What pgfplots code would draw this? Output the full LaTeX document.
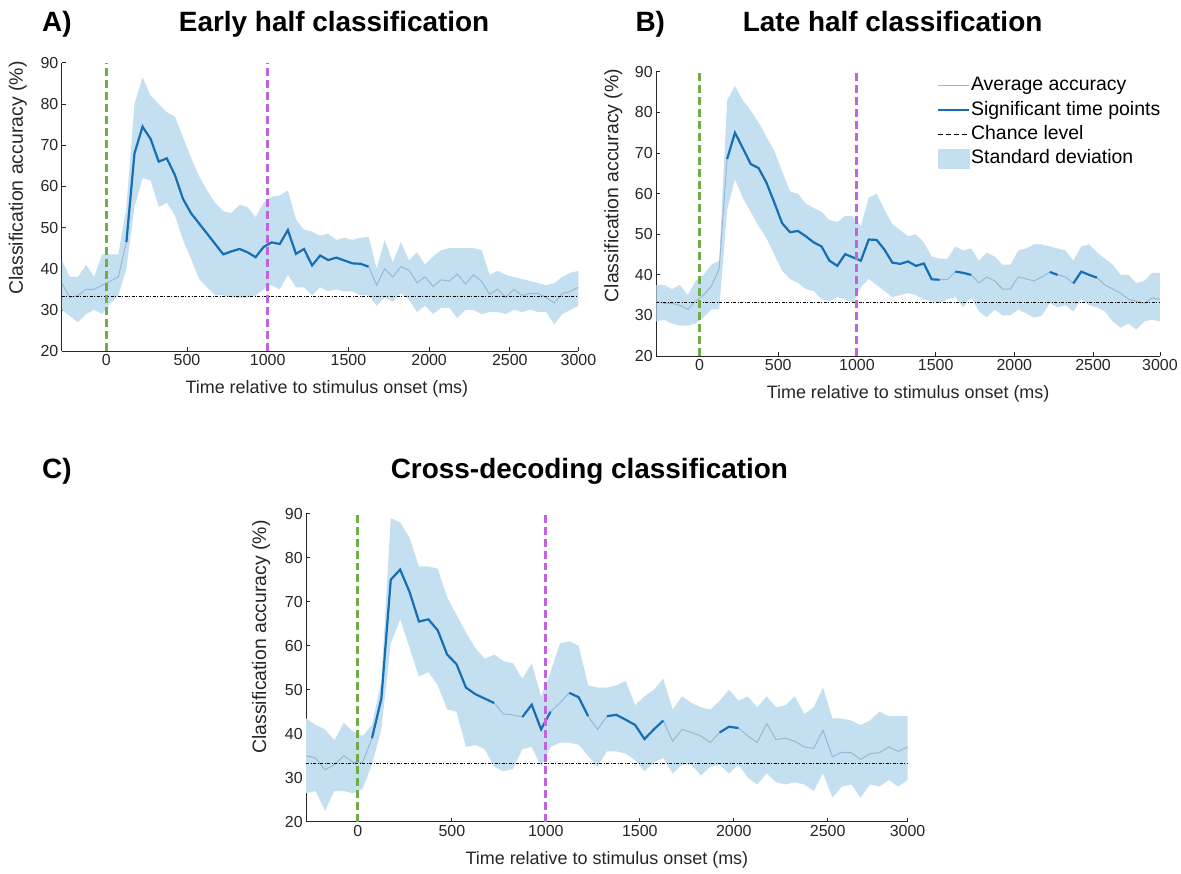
\documentclass[border=0pt]{standalone}
\usepackage{pgfplots}
\pgfplotsset{compat=1.18}
\usepackage{pgfplotstable}
\usepgfplotslibrary{fillbetween}
\usepackage{fontspec}
\setmainfont{Liberation Sans}

\definecolor{bandc}{RGB}{196,223,240}
\definecolor{meanc}{RGB}{150,185,215}
\definecolor{sigc}{RGB}{22,110,180}
\definecolor{greenc}{RGB}{112,173,71}
\definecolor{purc}{RGB}{190,100,225}
\definecolor{axc}{RGB}{38,38,38}

\pgfplotstableread{
t m u l s
-275 36.5 42 30 nan
-225 33 38 28.5 nan
-175 33.5 38 27 nan
-125 35 41 29 nan
-75 35 38 30 nan
-25 36 43.5 29 nan
25 37 43.5 31.5 nan
75 38 43.5 33.5 nan
125 46.5 55 40 46.5
175 68 80 55 68
225 74.5 86.5 62 74.5
275 71.5 82 61.5 71.5
325 66 80 55 66
375 66.8 78 56 66.8
425 62.8 77 53 62.8
475 57 72 47 57
525 53.5 67 42.5 53.5
575 51 62.5 37.5 51
625 48.5 59 35.5 48.5
675 46 56 33.5 46
725 43.5 54 33.5 43.5
775 44.2 53.5 33 44.2
825 44.8 55.5 33 44.8
875 44 55 33 44
925 42.8 52.5 33.5 42.8
975 45.3 56 35 45.3
1025 46.4 57.5 36 46.4
1075 46 57.8 35 46
1125 49.4 59 38.5 49.4
1175 43.6 52 35.5 43.6
1225 44.8 49.5 35.5 44.8
1275 40.8 49 33.5 40.8
1325 43.2 48 35.5 43.2
1375 42.1 48.5 34.5 42.1
1425 42.7 47 35 42.7
1475 42 47.5 34.5 42
1525 41.3 47 34.5 41.3
1575 41.2 47.5 33.5 41.2
1625 40.5 47.8 33.5 40.5
1675 36 40 31 nan
1725 40 47 33 nan
1775 38 41.5 32 nan
1825 40.5 46.5 34 nan
1875 39.6 42 32.5 nan
1925 36.6 44 29.5 nan
1975 38 41 31 nan
2025 35.7 43 29 nan
2075 37.3 44.5 30.5 nan
2125 37 45 30.5 nan
2175 38.7 45 28 nan
2225 36.3 45 30 nan
2275 38.5 45 30 nan
2325 37 44.5 29 nan
2375 33.8 38.5 29.5 nan
2425 35 39.5 29.5 nan
2475 33 38.5 29 nan
2525 35 38 30 nan
2575 33.5 37.5 29.5 nan
2625 34 37 30 nan
2675 34 36.5 29.5 nan
2725 33 36 29.5 nan
2775 31.7 36.5 26.5 nan
2825 34 38 29 nan
2875 34.5 39 30 nan
2925 35.5 39.5 31 nan
}\tabA

\pgfplotstableread{
t m u l s
-275 33.5 37.5 28.5 nan
-225 33 37.5 29 nan
-175 33 36.5 28 nan
-125 32.5 37.5 27.5 nan
-75 31.5 35 27.5 nan
-25 33.5 38.5 28 nan
25 35 40 29.5 nan
75 37.2 42.5 31.5 nan
125 41.6 43.5 31.5 nan
175 68.5 83 56 68.5
225 75 86.5 63.5 75
275 71.2 83 59 71.2
325 67.3 80.5 55.5 67.3
375 66.3 77.5 52 66.3
425 62.7 74 49 62.7
475 57.8 70.5 45 57.8
525 52.7 65.5 41 52.7
575 50.5 60.5 39 50.5
625 50.8 60 38 50.8
675 49.5 57.5 36.5 49.5
725 48 56.5 36 48
775 47 55.5 34 47
825 43.5 53.5 33.5 43.5
875 42.2 53 34.5 42.2
925 45.1 54.5 34 45.1
975 44.3 54.5 33 44.3
1025 43.5 52 37 43.5
1075 48.7 59 39 48.7
1125 48.6 60 37.5 48.6
1175 46.2 56 36 46.2
1225 43 52.5 34.5 43
1275 42.7 51 35 42.7
1325 43.3 49.5 35.5 43.3
1375 42.2 50 35 42.2
1425 42.8 48 34 42.8
1475 38.9 44.5 33.5 38.9
1525 38.8 44 33 38.8
1575 38.8 44 34 nan
1625 40.8 47 34.5 40.8
1675 40.5 46 32 40.5
1725 40 46.5 34.5 40
1775 38 43.5 31 nan
1825 39.5 45.5 29.5 nan
1875 38.5 44.5 31.5 nan
1925 36.5 42.5 30 nan
1975 36.5 42.5 30 nan
2025 39.5 46 31.5 nan
2075 39 46.5 30.5 nan
2125 38.5 47.5 29.5 nan
2175 39.5 47.5 30 nan
2225 40.7 47 33 40.7
2275 40 46.5 32 40
2325 39.5 46 32.5 nan
2375 37.9 43.5 31 37.9
2425 40.8 47 34 40.8
2475 40 47.5 32.5 40
2525 39.3 45.5 32 39.3
2575 37.5 44 31 nan
2625 36.5 42.5 28.5 nan
2675 35.5 40 27 nan
2725 34 40 28 nan
2775 33.5 38 26.5 nan
2825 33 38.5 28.5 nan
2875 34.3 40.5 29 nan
2925 34 40.5 28.5 nan
}\tabB

\pgfplotstableread{
t m u l s
-275 35 43.5 26.5 nan
-225 34.5 42 27 nan
-175 31.8 41 22.5 nan
-125 33 38.5 27 nan
-75 35 42.5 27 nan
-25 33.5 40.5 26.5 nan
25 33.5 39.5 27.5 nan
75 39 42 33 39
125 48 52 41 48
175 75 89 60.5 75
225 77.3 88 66 77.3
275 72.2 84.5 59.5 72.2
325 65.5 78 53 65.5
375 66 78 54 66
425 63.5 77.5 51 63.5
475 58 71 45.5 58
525 55.8 67 45 55.8
575 50.5 63 37 50.5
625 49 59.5 37.5 49
675 48 57 36.5 48
725 47 58 32.5 47
775 44.5 56.5 31.5 nan
825 44.3 56 32 nan
875 43.8 52.5 36.5 43.8
925 46.6 56 37 46.6
975 41 48.5 32.5 41
1025 45 54 37 45
1075 47 60.5 38 nan
1125 49.3 61 38 49.3
1175 48.3 60 37.5 48.3
1225 44 51 35 44
1275 41 50.5 32.5 nan
1325 44 50.5 36 44
1375 44.3 51 36 44.3
1425 43.2 52 35.5 43.2
1475 42 46.5 34 42
1525 38.8 48.5 31.5 38.8
1575 41 50 33.5 41
1625 43 52.5 34.5 43
1675 38.3 45.5 31 nan
1725 41 48.5 33 nan
1775 40.3 47 33 nan
1825 39.5 46 30.5 nan
1875 38 45.5 32.5 nan
1925 40.3 47.5 33 40.3
1975 41.6 50 31 41.6
2025 41.3 47.5 33 41.3
2075 39.5 48.5 30 nan
2125 38 46 28.5 nan
2175 42.3 48.5 31 nan
2225 38.7 46 29 nan
2275 39 46.5 28.5 nan
2325 38.3 48.5 29 nan
2375 37 44.5 28.5 nan
2425 36.7 46 27 nan
2475 40.8 50.5 31 nan
2525 34.8 43.5 25.5 nan
2575 35.8 43.5 28 nan
2625 35.7 43 28.5 nan
2675 34.2 42 25.5 nan
2725 35.5 43 28.5 nan
2775 35.7 45 28 nan
2825 37 44 29.5 nan
2875 36 44 28 nan
2925 37 44 29.5 nan
}\tabC

\pgfplotsset{
  panel/.style={
    scale only axis, anchor=south west,
    xmin=-275, xmax=2925, ymin=20, ymax=90,
    axis x line*=bottom, axis y line*=left,
    xtick={0,500,1000,1500,2000,2500,2925},
    xticklabels={0,500,1000,1500,2000,2500,3000},
    ytick={20,30,...,90},
    tick align=inside, major tick length=4pt,
    axis line style={axc, line width=0.8pt},
    tick style={axc, line width=0.8pt},
    tick label style={font=\fontsize{16}{16}\selectfont, text=axc},
    /pgf/number format/assume math mode=true,
    xlabel style={font=\fontsize{18}{18}\selectfont, text=axc},
    ylabel style={font=\fontsize{19.5}{19.5}\selectfont, text=axc},
    xlabel={Time relative to stimulus onset (ms)},
    ylabel={Classification accuracy (\%)},
    unbounded coords=jump,
    legend image code/.code={\draw[##1] (0pt,0pt) -- (31pt,0pt);},
  },
  meanline/.style={meanc, line width=1pt},
  sigline/.style={sigc, line width=2.2pt},
  chance/.style={black, line width=0.8pt, dash pattern=on 3pt off 1.5pt on 1pt off 1.5pt},
  vgreen/.style={greenc, line width=3pt, dash pattern=on 8pt off 4pt},
  vpurple/.style={purc, line width=3pt, dash pattern=on 8pt off 4pt},
}

\newcommand{\panelplots}[2]{%
  \addplot[name path=U#2, draw=none, forget plot] table[x=t,y=u]{#1};
  \addplot[name path=L#2, draw=none, forget plot] table[x=t,y=l]{#1};
  \addplot[bandc, draw=none, forget plot] fill between[of=U#2 and L#2];
  \addplot[meanline, forget plot] table[x=t,y=m]{#1};
  \addplot[sigline, forget plot] table[x=t,y=s]{#1};
  \addplot[chance, forget plot] coordinates {(-275,33.33) (2925,33.33)};
  \addplot[vgreen, forget plot] coordinates {(0,20) (0,90)};
  \addplot[vpurple, forget plot] coordinates {(1000,20) (1000,90)};
}

\begin{document}
\begin{tikzpicture}

\tikzset{ttl/.style={font=\fontsize{28}{28}\selectfont\bfseries, inner sep=0pt}}
\node[ttl, anchor=base west] at (42pt,-32pt) {A)};
\node[ttl, anchor=base] at (335pt,-32pt) {Early half classification};
\node[ttl, anchor=base west] at (637pt,-32pt) {B)};
\node[ttl, anchor=base] at (895pt,-32pt) {Late half classification};
\node[ttl, anchor=base west] at (42pt,-480pt) {C)};
\node[ttl, anchor=base] at (591pt,-480pt) {Cross-decoding classification};

\begin{axis}[panel, at={(62pt,-352pt)}, width=518pt, height=289pt,
  xlabel style={at={(axis description cs:0.513,0)}, anchor=center, yshift=-38pt},
  ylabel style={at={(axis description cs:-0.085,0.6)}, anchor=center}]
\panelplots{\tabA}{a}
\end{axis}

\begin{axis}[panel, at={(658pt,-357pt)}, width=505pt, height=285pt,
  xlabel style={at={(axis description cs:0.5,0)}, anchor=center, yshift=-38pt},
  ylabel style={at={(axis description cs:-0.085,0.6)}, anchor=center},
  legend style={at={(0.557,0.986)}, anchor=north west, draw=none, fill=none,
    font=\fontsize{19.5}{19.5}\selectfont, row sep=4.4pt, inner sep=0pt,
    nodes={inner sep=1pt, text height=14pt, text depth=4pt, text=black},
    /tikz/every even column/.append style={column sep=3pt}},
  legend cell align=left]
\panelplots{\tabB}{b}
\addlegendimage{meanline}
\addlegendentry{Average accuracy}
\addlegendimage{sigline}
\addlegendentry{Significant time points}
\addlegendimage{black, line width=1pt, dash pattern=on 5pt off 3pt}
\addlegendentry{Chance level}
\addlegendimage{legend image code/.code={\fill[bandc] (0pt,-9.5pt) rectangle (31pt,9.5pt);}}
\addlegendentry{Standard deviation}
\end{axis}

\begin{axis}[panel, at={(307pt,-824pt)}, width=603pt, height=309pt,
  xlabel style={at={(axis description cs:0.5,0)}, anchor=center, yshift=-38pt},
  ylabel style={at={(axis description cs:-0.075,0.6)}, anchor=center}]
\panelplots{\tabC}{c}
\end{axis}

\path (0pt,0pt) rectangle (1181pt,-876pt);
\end{tikzpicture}
\end{document}
